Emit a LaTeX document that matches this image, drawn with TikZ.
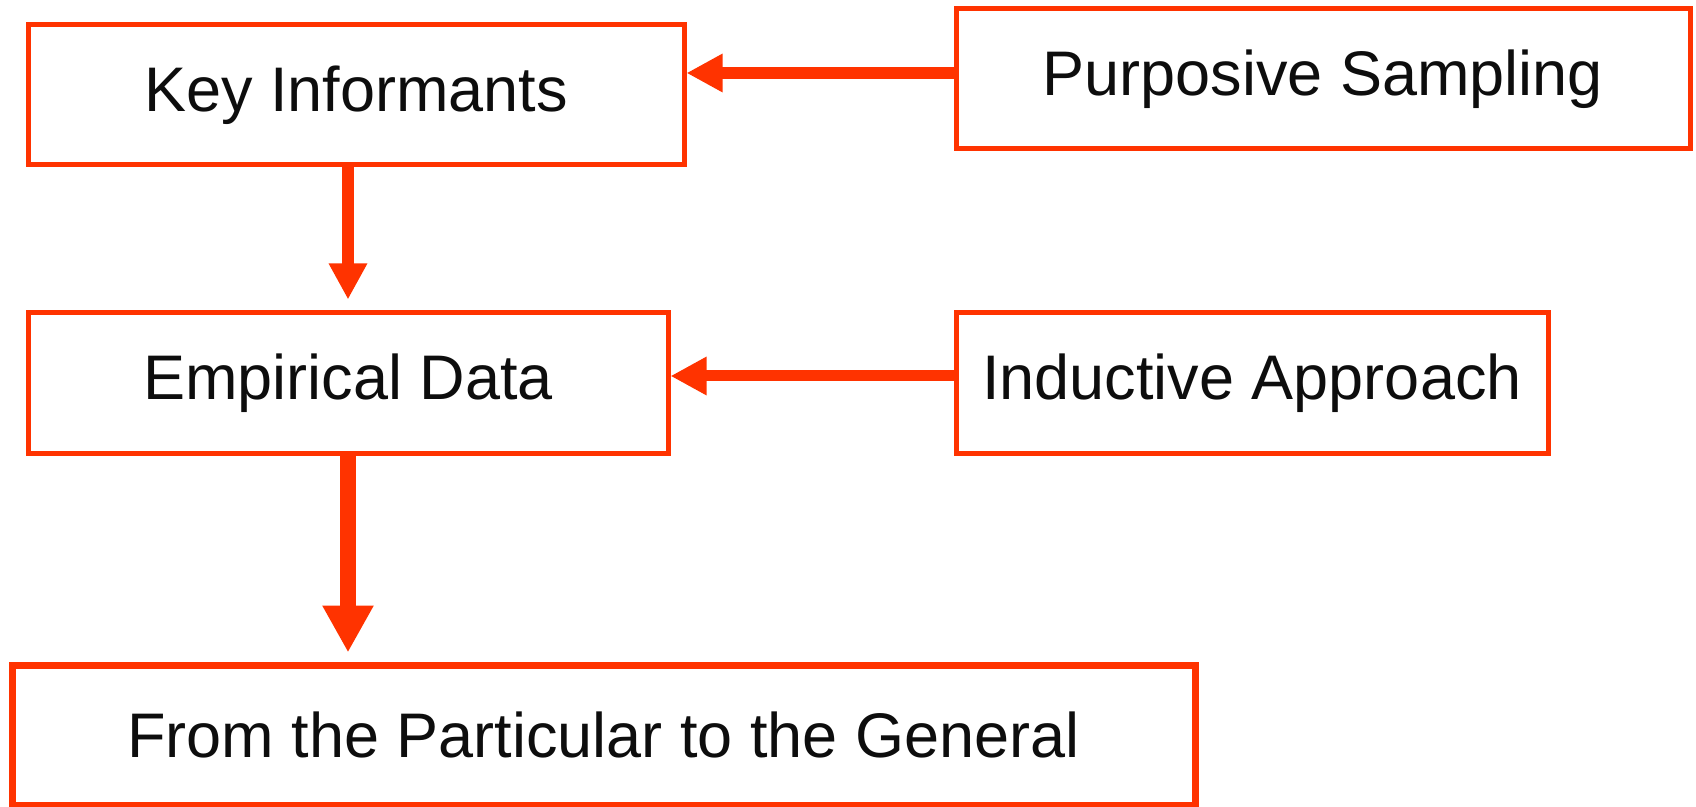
\documentclass[tikz,border=0pt]{standalone}
\usepackage{fontspec}
\setmainfont{Liberation Sans}
\usetikzlibrary{arrows.meta,positioning}
\definecolor{flowred}{HTML}{FF3300}
\tikzset{>={Triangle[length=18pt,width=18pt]}}

\begin{document}
\begin{tikzpicture}[x=0.5pt,y=0.5pt]
	\tikzset{block/.style= {draw=flowred, rectangle, line width=2.5pt, inner sep=0pt, align=center,
			minimum height=70pt, text=black!95, font=\fontsize{31.5}{36}\selectfont},
		harrow/.style={draw=flowred, line width=6pt, ->},
		varrow/.style={draw=flowred, line width=6pt, ->, shorten >=5.5pt},
	}
	\useasboundingbox (0,0) rectangle (1696,-807);
	\node [block, minimum width=328pt] (ki) at (356,-95) {Key Informants};
	\node [block, minimum width=367pt] (ps) at (1323,-79) {Purposive Sampling};
	\node [block, minimum width=320pt] (ed) at (348,-383) {Empirical Data};
	\node [block, right = 141.5pt of ed, minimum width=296pt] (ia) {Inductive Approach};
	\node [block, minimum width=591.5pt, line width=3.5pt] (fpg) at (603.5,-735) {From the Particular to the General};
	% connectors
	\draw [harrow] ([yshift=3pt]ps.west) -- ([yshift=3pt]ps.west -| ki.east);
	\draw [varrow] (ki.south -| ed.north) -- (ed.north);
	\draw [harrow, line width=5.5pt] ([yshift=3.5pt]ia.west) -- ([yshift=3.5pt]ed.east);
	\draw [varrow, line width=8pt, shorten >=4.5pt, -{Triangle[length=23.5pt,width=24pt]}] (ed.south) -- (ed.south |- fpg.north);
\end{tikzpicture}
\end{document}
